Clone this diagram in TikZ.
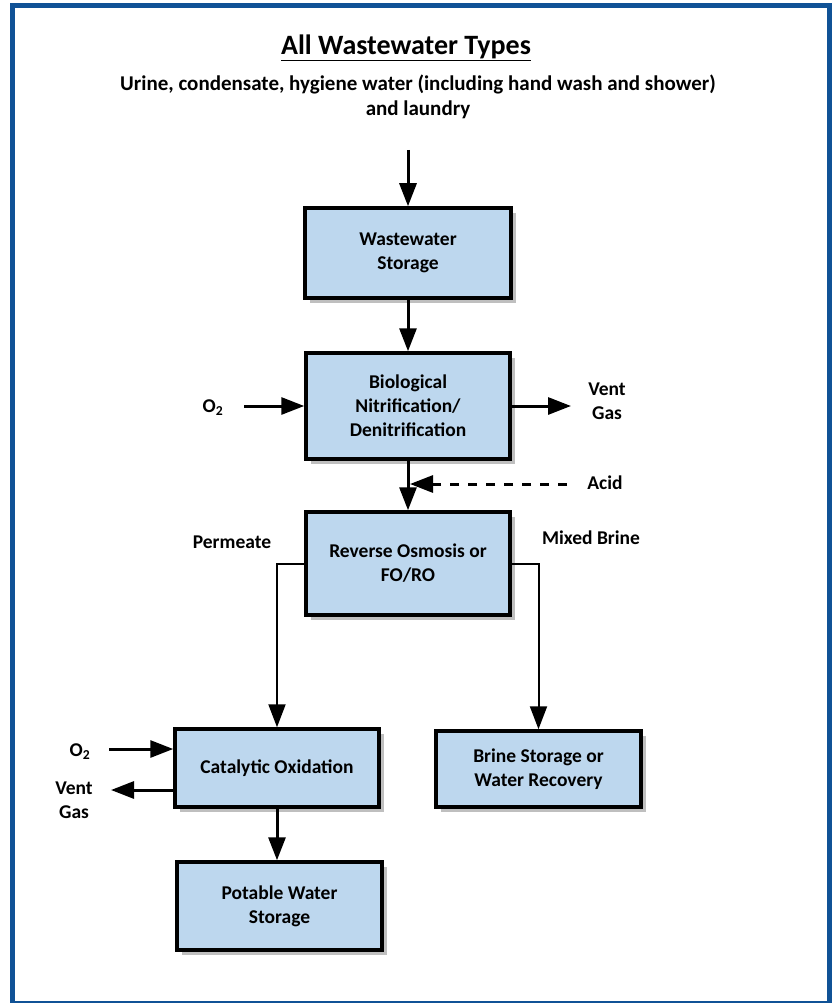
\documentclass[tikz,border=0pt]{standalone}
\usepackage{fontspec}
\setmainfont{Carlito}
\usetikzlibrary{arrows.meta,shadows}
\definecolor{frameblue}{RGB}{16,82,150}
\definecolor{boxblue}{RGB}{189,215,238}
\begin{document}
\begin{tikzpicture}[x=1pt,y=-1pt,
  every node/.style={font=\bfseries\fontsize{19.5}{24}\selectfont, align=center, inner sep=0pt},
  procbox/.style={draw=black, line width=3.5pt, fill=boxblue, align=center,
    drop shadow={shadow xshift=5pt, shadow yshift=-5pt, fill=black, opacity=0.25}},
  arr/.style={line width=3pt, -{Triangle[length=23pt,width=17pt]}},
  thinarr/.style={line width=2pt, -{Triangle[length=23pt,width=17pt]}},
  dasharr/.style={line width=3pt, dash pattern=on 9pt off 9pt, -{Triangle[length=23pt,width=17pt]}},
  lbl/.style={}]
\useasboundingbox (0,0) rectangle (832,1003);
\fill[white] (0,0) rectangle (832,1003);
\draw[frameblue, line width=5pt] (12.5,5.5) rectangle (829.5,1003.5);

% headings
\node[font=\bfseries\fontsize{28}{32}\selectfont] (title) at (406,48) {\underline{All Wastewater Types}};
\node[font=\bfseries\fontsize{21}{25}\selectfont] (sub) at (418,97) {Urine, condensate, hygiene water (including hand wash and shower)\\and laundry};

% boxes
\node[procbox, minimum width=206pt, minimum height=90pt] (ws) at (408,253) {Wastewater\\Storage};
\node[procbox, minimum width=204pt, minimum height=106pt] (bio) at (408,406) {Biological\\Nitrification/\\Denitrification};
\node[procbox, minimum width=204pt, minimum height=103pt] (ro) at (408,563.5) {Reverse Osmosis or\\FO/RO};
\node[procbox, minimum width=204pt, minimum height=78pt] (cat) at (277,768) {Catalytic Oxidation};
\node[procbox, minimum width=205pt, minimum height=88pt] (pot) at (279.5,906) {Potable Water\\Storage};
\node[procbox, minimum width=205pt, minimum height=76pt] (brine) at (538.5,769) {Brine Storage or\\Water Recovery};

% labels
\node (o2a) at (213,408) {O\textsubscript{2}};
\node (venta) at (607,401) {Vent\\Gas};
\node (acid) at (605,483) {Acid};
\node (perm) at (232,542) {Permeate};
\node (mixed) at (591,538) {Mixed Brine};
\node (o2b) at (80,752) {O\textsubscript{2}};
\node (ventb) at (74,800) {Vent\\Gas};

% free ends
\coordinate (in) at (408,150);
\coordinate (o2as) at (244,406);
\coordinate (ventae) at (571,406);
\coordinate (acids) at (567,484);
\coordinate (acide) at (410,484);
\coordinate (o2bs) at (109,749);
\coordinate (ventbe) at (111,790);

% connectors
\draw[arr] (in) -- (ws.north);
\draw[arr] (ws.south) -- (bio.north);
\draw[arr] (o2as) -- (bio.west);
\draw[arr] (bio.east) -- (ventae);
\draw[arr] (bio.south) -- (ro.north);
\draw[dasharr] (acids) -- (acide);
\draw[thinarr] (ro.west) -| (cat.north);
\draw[thinarr] (ro.east) -| (brine.north);
\draw[arr] (o2bs) -- (cat.west |- o2bs);
\draw[arr] (cat.west |- ventbe) -- (ventbe);
\draw[arr] (cat.south) -- (cat.south |- pot.north);
\end{tikzpicture}
\end{document}
